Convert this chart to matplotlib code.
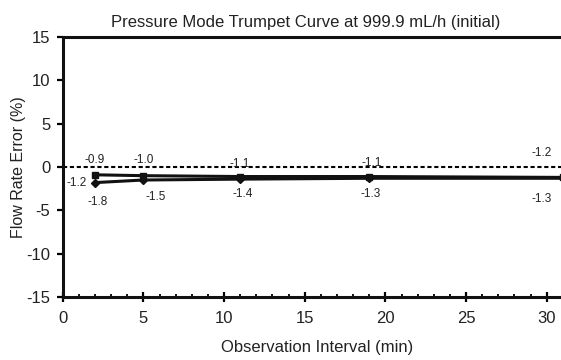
import matplotlib
matplotlib.use("Agg")
import matplotlib.pyplot as plt
from matplotlib.ticker import MultipleLocator

plt.rcParams['font.family'] = ['Liberation Sans', 'DejaVu Sans']
plt.rcParams['axes.unicode_minus'] = False

# observation windows (min) and flow rate error (%)
intervals = [2, 5, 11, 19, 31]
max_err = [-0.9, -1.0, -1.1, -1.1, -1.2]
min_err = [-1.8, -1.5, -1.4, -1.3, -1.3]
mean_err = -1.2

# label offsets in pixels (dx, dy)
max_off = [(0, 15), (0, 16), (0, 13), (2, 14), (-21, 24)]
min_off = [(3, -19), (12, -17), (3, -15), (1, -16), (-21, -21)]

fig = plt.figure(figsize=(5.61, 3.6), dpi=100)
ax = fig.add_axes([0.1118, 0.175, 0.8915, 0.7222])

ax.axhline(0, color='black', lw=1.5, ls=(0, (2, 1.3)), zorder=1)
ax.plot(intervals, max_err, color='#111111', lw=2.2, marker='s', ms=4.5, zorder=3, clip_on=False)
ax.plot(intervals, min_err, color='#111111', lw=2.2, marker='D', ms=4.5, zorder=3, clip_on=False)

for x, v, off in zip(intervals, max_err, max_off):
    ax.annotate(f'{v:.1f}', (x, v), xytext=off, textcoords='offset pixels',
                ha='center', va='center', fontsize=8.5, color='#222222', annotation_clip=False)
for x, v, off in zip(intervals, min_err, min_off):
    ax.annotate(f'{v:.1f}', (x, v), xytext=off, textcoords='offset pixels',
                ha='center', va='center', fontsize=8.5, color='#222222', annotation_clip=False)
ax.annotate(f'{mean_err:.1f}', (intervals[0], mean_err), xytext=(-18, -6), textcoords='offset pixels',
            ha='center', va='center', fontsize=8.5, color='#222222')

ax.set_xlim(0, 31)
ax.set_ylim(-15, 15)
ax.xaxis.set_major_locator(MultipleLocator(5))
ax.xaxis.set_minor_locator(MultipleLocator(1))
ax.yaxis.set_major_locator(MultipleLocator(5))

ax.spines['right'].set_visible(False)
for s in ['left', 'bottom', 'top']:
    ax.spines[s].set_linewidth(2.2)
    ax.spines[s].set_color('#111111')
ax.tick_params(axis='x', which='major', direction='inout', length=7.5, width=1.6,
               labelsize=12, pad=6, labelcolor='#222222')
ax.tick_params(axis='x', which='minor', direction='in', length=2.5, width=1.3)
ax.tick_params(axis='y', which='major', direction='out', length=4, width=1.6,
               labelsize=12, pad=5, labelcolor='#222222')

fig.text(305.5 / 561, 1 - 27 / 360, 'Pressure Mode Trumpet Curve at 999.9 mL/h (initial)',
         ha='center', va='baseline', fontsize=12, color='#222222')
fig.text(317.5 / 561, 8 / 360, 'Observation Interval (min)',
         ha='center', va='baseline', fontsize=12, color='#222222')
fig.text(19 / 561, 1 - 167 / 360, 'Flow Rate Error (%)', rotation=90,
         ha='center', va='center', fontsize=11.5, color='#222222')

fig.savefig('out.png', dpi=100)
